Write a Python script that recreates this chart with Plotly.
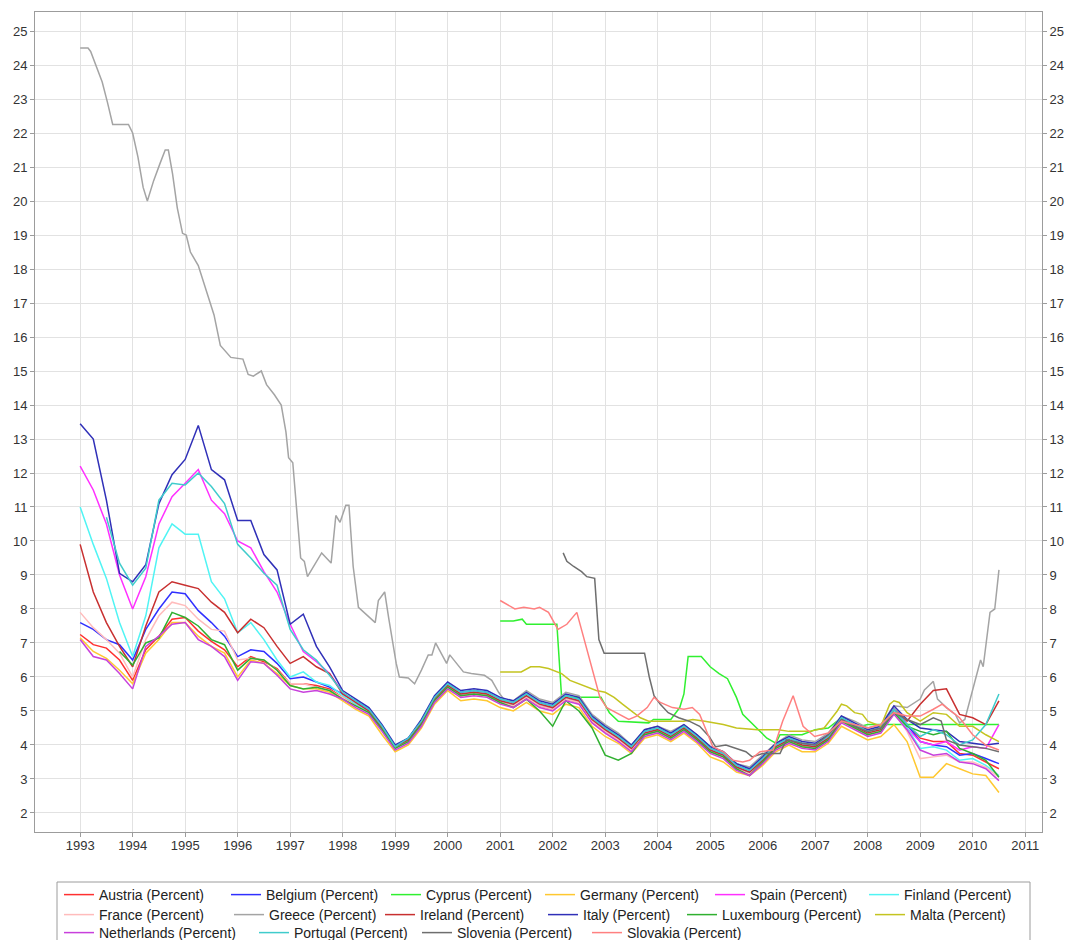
import plotly.graph_objects as go

# ---------------- data (10-year government bond yields, percent) ----------------
quarters = [1993 + q / 4 for q in range(71)]  # 1993.00 ... 2010.50

austria = [
    7.25, 6.95, 6.85, 6.5,
    5.9, 6.8, 7.2, 7.7,
    7.75, 7.35, 7.05, 6.8,
    6.3, 6.6, 6.45, 6.25,
    5.8, 5.8, 5.75, 5.65,
    5.4, 5.2, 5.0, 4.5,
    3.9, 4.15, 4.65, 5.35,
    5.7, 5.45, 5.5, 5.45,
    5.25, 5.15, 5.4, 5.15,
    5.05, 5.35, 5.25, 4.7,
    4.4, 4.15, 3.85, 4.3,
    4.4, 4.2, 4.45, 4.15,
    3.8, 3.65, 3.3, 3.15,
    3.5, 3.9, 4.1, 3.95,
    3.9, 4.15, 4.7, 4.5,
    4.3, 4.4, 5.0, 4.6,
    4.2, 4.1, 4.1, 3.75,
    3.7, 3.5, 3.3,
]
belgium = [
    7.6, 7.4, 7.1, 6.95,
    6.5, 7.4, 8.0, 8.5,
    8.45, 7.95, 7.6, 7.2,
    6.6, 6.8, 6.75, 6.4,
    5.95, 6.0, 5.85, 5.7,
    5.5, 5.3, 5.05, 4.55,
    3.95, 4.2, 4.7, 5.4,
    5.8, 5.55, 5.6, 5.55,
    5.35, 5.25, 5.5, 5.25,
    5.15, 5.45, 5.35, 4.8,
    4.5, 4.25, 3.95, 4.4,
    4.5, 4.3, 4.55, 4.25,
    3.9, 3.75, 3.4, 3.25,
    3.6, 4.0, 4.2, 4.05,
    4.0, 4.25, 4.8, 4.6,
    4.4, 4.5, 5.05, 4.6,
    4.1, 4.0, 3.95, 3.7,
    3.75, 3.6, 3.45,
]
germany = [
    7.15, 6.75, 6.55, 6.2,
    5.8, 6.7, 7.1, 7.6,
    7.6, 7.2, 6.9, 6.7,
    6.0, 6.5, 6.4, 6.1,
    5.75, 5.65, 5.65, 5.55,
    5.3, 5.05, 4.85, 4.3,
    3.8, 4.0, 4.5, 5.2,
    5.6, 5.3, 5.35, 5.3,
    5.1, 5.0, 5.25, 5.0,
    4.9, 5.2, 5.1, 4.55,
    4.25, 4.05, 3.75, 4.2,
    4.3, 4.1, 4.35, 4.05,
    3.65, 3.5, 3.2, 3.1,
    3.4, 3.8, 4.0, 3.8,
    3.8, 4.05, 4.55, 4.35,
    4.15, 4.25, 4.6, 4.1,
    3.05, 3.05, 3.45, 3.3,
    3.15, 3.1, 2.6,
]
spain = [
    12.2, 11.5, 10.5, 9.0,
    8.0, 8.95, 10.5, 11.3,
    11.7, 12.1, 11.2, 10.8,
    10.0, 9.8, 9.1, 8.5,
    7.55, 6.75, 6.45, 6.1,
    5.55, 5.25, 5.0, 4.5,
    3.95, 4.15, 4.65, 5.35,
    5.75, 5.5, 5.55, 5.5,
    5.3, 5.2, 5.45, 5.2,
    5.1, 5.4, 5.3, 4.75,
    4.45, 4.2, 3.9, 4.35,
    4.45, 4.25, 4.5, 4.2,
    3.85, 3.7, 3.35, 3.2,
    3.55, 3.95, 4.15, 4.0,
    3.95, 4.2, 4.75, 4.55,
    4.35, 4.45, 5.0, 4.5,
    4.1, 4.0, 4.1, 3.85,
    3.95, 3.9, 4.6,
]
finland = [
    11.0, 9.9, 8.9, 7.6,
    6.6, 7.8, 9.8, 10.5,
    10.2, 10.2, 8.8, 8.3,
    7.3, 7.6, 7.1, 6.5,
    6.0, 6.15, 5.85, 5.75,
    5.45, 5.2, 4.95, 4.45,
    3.9, 4.15, 4.65, 5.35,
    5.75, 5.5, 5.55, 5.5,
    5.3, 5.2, 5.45, 5.2,
    5.1, 5.4, 5.3, 4.75,
    4.45, 4.2, 3.9, 4.35,
    4.45, 4.25, 4.5, 4.2,
    3.85, 3.7, 3.35, 3.2,
    3.55, 3.95, 4.15, 4.0,
    3.95, 4.2, 4.75, 4.55,
    4.35, 4.45, 5.0, 4.5,
    3.9, 3.95, 3.85, 3.55,
    3.6, 3.4, 3.1,
]
france = [
    7.9, 7.45, 7.1, 6.7,
    6.0, 7.1, 7.8, 8.2,
    8.1, 7.7, 7.4, 7.35,
    6.5, 6.55, 6.5, 6.2,
    5.8, 5.8, 5.7, 5.6,
    5.4, 5.15, 4.95, 4.45,
    3.9, 4.1, 4.6, 5.3,
    5.7, 5.45, 5.5, 5.45,
    5.25, 5.15, 5.4, 5.15,
    5.05, 5.35, 5.25, 4.7,
    4.4, 4.15, 3.85, 4.3,
    4.4, 4.2, 4.45, 4.15,
    3.8, 3.65, 3.3, 3.15,
    3.5, 3.9, 4.1, 3.95,
    3.9, 4.15, 4.7, 4.5,
    4.3, 4.4, 4.95, 4.4,
    3.6, 3.65, 3.7, 3.5,
    3.5, 3.35, 3.05,
]
ireland = [
    9.9, 8.5, 7.6, 6.9,
    6.3, 7.5, 8.5, 8.8,
    8.7, 8.6, 8.2, 7.9,
    7.3, 7.7, 7.45, 6.9,
    6.4, 6.6, 6.3, 6.1,
    5.5, 5.25, 5.0, 4.5,
    3.95, 4.15, 4.65, 5.35,
    5.75, 5.5, 5.55, 5.5,
    5.3, 5.2, 5.45, 5.2,
    5.1, 5.4, 5.3, 4.75,
    4.45, 4.2, 3.9, 4.35,
    4.45, 4.25, 4.5, 4.2,
    3.85, 3.7, 3.35, 3.2,
    3.55, 3.95, 4.15, 4.0,
    3.95, 4.2, 4.75, 4.55,
    4.35, 4.45, 5.05, 4.7,
    5.2, 5.6, 5.65, 4.9,
    4.8, 4.6, 5.3,
]
italy = [
    13.45, 13.0, 11.2, 9.05,
    8.8, 9.3, 11.1, 11.95,
    12.4, 13.4, 12.1, 11.8,
    10.6, 10.6, 9.6, 9.15,
    7.55, 7.85, 6.9, 6.3,
    5.6, 5.35, 5.1, 4.6,
    4.0, 4.2, 4.75, 5.45,
    5.85, 5.6, 5.65, 5.6,
    5.4, 5.3, 5.55, 5.3,
    5.2, 5.5, 5.4, 4.85,
    4.55, 4.3, 4.0, 4.45,
    4.55, 4.35, 4.6, 4.3,
    3.95, 3.8, 3.45, 3.3,
    3.65, 4.05, 4.25, 4.1,
    4.05, 4.3, 4.85, 4.65,
    4.45, 4.55, 5.15, 4.75,
    4.5, 4.45, 4.4, 4.1,
    4.05, 4.0, 4.05,
]
luxembourg = [
    None, None, None, 6.75,
    6.35, 7.0, 7.15, 7.9,
    7.75, 7.5, 7.1, 6.95,
    6.2, 6.55, 6.5, 6.2,
    5.75, 5.65, 5.7, 5.6,
    5.35, 5.15, 4.95, 4.45,
    3.9, 4.1, 4.6, 5.3,
    5.7, 5.45, 5.5, 5.45,
    5.25, 5.1, 5.35, 5.0,
    4.55, 5.3, 5.0, 4.5,
    3.7, 3.55, 3.75, 4.3,
    4.4, 4.2, 4.45, 4.15,
    3.8, 3.65, 3.3, 3.1,
    3.5, 3.9, 4.1, 3.95,
    3.9, 4.15, 4.7, 4.5,
    4.3, 4.4, 4.95, 4.55,
    4.4, 4.3, 4.4, 3.9,
    3.75, 3.55, 3.05,
]
netherlands = [
    7.1, 6.6, 6.5, 6.1,
    5.65, 6.9, 7.2, 7.55,
    7.6, 7.1, 6.9, 6.6,
    5.9, 6.45, 6.4, 6.05,
    5.65, 5.55, 5.6, 5.5,
    5.35, 5.1, 4.9, 4.4,
    3.85, 4.05, 4.55, 5.25,
    5.65, 5.4, 5.45, 5.4,
    5.2, 5.1, 5.35, 5.1,
    5.0, 5.3, 5.2, 4.65,
    4.35, 4.1, 3.8, 4.25,
    4.35, 4.15, 4.4, 4.1,
    3.75, 3.6, 3.25, 3.1,
    3.45, 3.85, 4.05, 3.9,
    3.85, 4.1, 4.65, 4.45,
    4.25, 4.35, 4.9, 4.45,
    3.85, 3.7, 3.75, 3.5,
    3.45, 3.3, 2.95,
]
portugal = [
    None, None, 10.7, 9.35,
    8.7, 9.2, 11.2, 11.7,
    11.65, 12.0, 11.6, 11.1,
    9.9, 9.5, 9.05, 8.7,
    7.4, 6.8, 6.5, 6.05,
    5.55, 5.3, 5.05, 4.55,
    3.95, 4.2, 4.7, 5.4,
    5.8, 5.55, 5.6, 5.55,
    5.35, 5.25, 5.5, 5.25,
    5.15, 5.45, 5.35, 4.8,
    4.5, 4.25, 3.95, 4.4,
    4.5, 4.3, 4.55, 4.25,
    3.9, 3.75, 3.4, 3.25,
    3.6, 4.0, 4.2, 4.05,
    4.0, 4.25, 4.8, 4.6,
    4.4, 4.5, 5.05, 4.6,
    4.25, 4.45, 4.3, 4.0,
    4.15, 4.6, 5.5,
]

greece_t = [
    1993.0, 1993.15, 1993.2, 1993.42, 1993.52, 1993.62, 1993.92, 1994.0, 1994.1, 1994.2,
    1994.28, 1994.4, 1994.52, 1994.62, 1994.68, 1994.76, 1994.85, 1994.95, 1995.02, 1995.1,
    1995.25, 1995.4, 1995.55, 1995.67, 1995.87, 1996.1, 1996.2, 1996.3, 1996.45, 1996.55,
    1996.7, 1996.83, 1996.92, 1996.97, 1997.05, 1997.2, 1997.27, 1997.33, 1997.45, 1997.6,
    1997.78, 1997.87, 1997.95, 1998.06, 1998.12, 1998.2, 1998.3, 1998.4, 1998.5, 1998.62,
    1998.68, 1998.8, 1998.88, 1999.02, 1999.08, 1999.25, 1999.37, 1999.5, 1999.63, 1999.7,
    1999.77, 1999.88, 1999.98, 2000.04, 2000.17, 2000.3, 2000.45, 2000.7, 2000.84, 2000.97,
    2001.09, 2001.25, 2001.5, 2001.75, 2002.0, 2002.25, 2002.5, 2002.75, 2003.0, 2003.25,
    2003.5, 2003.75, 2004.0, 2004.25, 2004.5, 2004.75, 2005.0, 2005.25, 2005.5, 2005.75,
    2006.0, 2006.25, 2006.5, 2006.75, 2007.0, 2007.25, 2007.5, 2007.75, 2008.0, 2008.25,
    2008.5, 2008.75, 2009.0, 2009.08, 2009.17, 2009.25, 2009.33, 2009.5, 2009.67, 2009.75,
    2009.85, 2010.0, 2010.15, 2010.2, 2010.33, 2010.42, 2010.5,
]
greece_v = [
    24.5, 24.5, 24.4, 23.5, 22.9, 22.25, 22.25, 22.0, 21.3, 20.4,
    20.0, 20.6, 21.1, 21.5, 21.5, 20.8, 19.8, 19.05, 19.0, 18.5,
    18.1, 17.4, 16.65, 15.75, 15.4, 15.35, 14.9, 14.85, 15.0, 14.6,
    14.3, 14.0, 13.2, 12.45, 12.3, 9.5, 9.4, 8.95, 9.25, 9.65,
    9.35, 10.75, 10.55, 11.05, 11.05, 9.25, 8.05, 7.9, 7.75, 7.6,
    8.25, 8.5, 7.7, 6.4, 6.0, 5.97, 5.8, 6.2, 6.65, 6.65,
    7.0, 6.7, 6.4, 6.65, 6.4, 6.15, 6.1, 6.05, 5.9, 5.55,
    5.3, 5.3, 5.6, 5.35, 5.25, 5.55, 5.45, 4.9, 4.6, 4.35,
    4.0, 4.45, 4.55, 4.4, 4.6, 4.3, 3.95, 3.8, 3.45, 3.35,
    3.7, 4.05, 4.3, 4.15, 4.1, 4.35, 4.85, 4.7, 4.5, 4.6,
    5.15, 5.1, 5.35, 5.62, 5.75, 5.87, 5.35, 5.1, 4.9, 4.65,
    4.75, 5.6, 6.5, 6.3, 7.9, 8.0, 9.15,
]

cyprus_t = [
    2001.0, 2001.25, 2001.42, 2001.5, 2002.08, 2002.13, 2002.17, 2002.92, 2003.08, 2003.25,
    2003.83, 2003.92, 2004.25, 2004.42, 2004.5, 2004.58, 2004.83, 2005.0, 2005.17, 2005.33,
    2005.5, 2005.62, 2005.92, 2006.08, 2006.25, 2006.33, 2006.75, 2007.0, 2007.25, 2007.5,
    2007.75, 2008.0, 2010.5,
]
cyprus_v = [
    7.65, 7.65, 7.7, 7.55, 7.55, 6.5, 5.4, 5.4, 4.95, 4.7,
    4.65, 4.75, 4.75, 5.1, 5.5, 6.6, 6.6, 6.3, 6.1, 5.95,
    5.4, 4.9, 4.45, 4.2, 4.05, 4.3, 4.3, 4.45, 4.5, 4.8,
    4.5, 4.6, 4.6,
]

malta_t = [
    2001.0, 2001.4, 2001.58, 2001.75, 2001.92, 2002.17, 2002.33, 2002.58, 2002.83, 2003.0,
    2003.17, 2003.33, 2003.5, 2003.67, 2003.83, 2004.0, 2004.5, 2004.67, 2004.9, 2005.25,
    2005.5, 2005.9, 2006.3, 2006.5, 2006.9, 2007.17, 2007.42, 2007.5, 2007.6, 2007.75,
    2007.9, 2008.0, 2008.25, 2008.42, 2008.5, 2008.6, 2008.75, 2009.0, 2009.25, 2009.5,
    2009.75, 2010.0, 2010.25, 2010.5,
]
malta_v = [
    6.15, 6.15, 6.3, 6.3, 6.25, 6.1, 5.9, 5.75, 5.6, 5.55,
    5.4, 5.2, 5.0, 4.8, 4.7, 4.7, 4.7, 4.75, 4.7, 4.6,
    4.5, 4.45, 4.45, 4.4, 4.4, 4.5, 5.0, 5.2, 5.15, 4.95,
    4.9, 4.7, 4.55, 5.2, 5.3, 5.25, 4.95, 4.7, 4.95, 4.9,
    4.55, 4.55, 4.3, 4.1,
]

slovenia_t = [
    2002.2, 2002.27, 2002.4, 2002.55, 2002.65, 2002.8, 2002.88, 2002.98, 2003.75, 2003.84,
    2003.93, 2004.05, 2004.2, 2004.4, 2004.6, 2004.8, 2004.98, 2005.1, 2005.3, 2005.5,
    2005.68, 2005.8, 2006.0, 2006.33, 2006.45, 2006.75, 2007.0, 2007.25, 2007.5, 2007.75,
    2008.0, 2008.25, 2008.5, 2008.75, 2009.0, 2009.25, 2009.4, 2009.5, 2009.75, 2010.0,
    2010.25, 2010.5,
]
slovenia_v = [
    9.65, 9.4, 9.25, 9.1, 8.95, 8.9, 7.1, 6.7, 6.7, 6.0,
    5.45, 5.2, 4.95, 4.8, 4.7, 4.55, 4.25, 3.95, 4.0, 3.9,
    3.8, 3.65, 3.75, 3.75, 4.15, 4.05, 4.0, 4.3, 4.75, 4.55,
    4.4, 4.5, 4.95, 4.75, 4.6, 4.8, 4.7, 4.15, 4.0, 3.95,
    3.9, 3.8,
]

slovakia_t = [
    2001.0, 2001.28, 2001.45, 2001.65, 2001.75, 2001.92, 2002.1, 2002.27, 2002.46, 2002.6,
    2002.77, 2002.9, 2003.03, 2003.2, 2003.45, 2003.6, 2003.8, 2003.93, 2004.05, 2004.28,
    2004.5, 2004.66, 2004.8, 2004.92, 2005.05, 2005.25, 2005.43, 2005.62, 2005.75, 2005.95,
    2006.2, 2006.38, 2006.58, 2006.77, 2006.99, 2007.25, 2007.5, 2007.75, 2008.0, 2008.25,
    2008.5, 2008.75, 2009.0, 2009.25, 2009.42, 2009.5, 2009.75, 2010.0, 2010.25, 2010.5,
]
slovakia_v = [
    8.25, 8.0, 8.05, 8.0, 8.05, 7.9, 7.4, 7.55, 7.9, 7.1,
    6.2, 5.4, 5.1, 4.95, 4.75, 4.85, 5.1, 5.4, 5.25, 5.1,
    5.05, 5.1, 4.9, 4.45, 3.95, 3.8, 3.55, 3.5, 3.55, 3.8,
    3.85, 4.7, 5.45, 4.55, 4.25, 4.35, 4.7, 4.6, 4.5, 4.6,
    4.95, 4.85, 4.85, 5.05, 5.2, 5.1, 4.8, 4.3, 4.0, 3.85,
]

y_ticks = list(range(2, 26))
x_ticks = list(range(1993, 2012))

# ---------------- figure ----------------
FONT = "Liberation Sans, Arial, sans-serif"
W, H = 1066, 940
PL, PR, PT, PB = 35, 1042, 12, 832        # plot-area pixel box
Y_RANGE = [1.44, 25.56]
X_RANGE = [1992.14, 2011.32]

series = [
    ("Austria (Percent)", quarters, austria, "#ff3030"),
    ("Belgium (Percent)", quarters, belgium, "#3030ff"),
    ("Cyprus (Percent)", cyprus_t, cyprus_v, "#30f030"),
    ("Germany (Percent)", quarters, germany, "#ffc830"),
    ("Spain (Percent)", quarters, spain, "#ff30ff"),
    ("Finland (Percent)", quarters, finland, "#50f4f4"),
    ("France (Percent)", quarters, france, "#ffbcbc"),
    ("Greece (Percent)", greece_t, greece_v, "#a4a4a4"),
    ("Ireland (Percent)", quarters, ireland, "#c83030"),
    ("Italy (Percent)", quarters, italy, "#3030b8"),
    ("Luxembourg (Percent)", quarters, luxembourg, "#30b030"),
    ("Malta (Percent)", malta_t, malta_v, "#c4c420"),
    ("Netherlands (Percent)", quarters, netherlands, "#c840dc"),
    ("Portugal (Percent)", quarters, portugal, "#40cccc"),
    ("Slovenia (Percent)", slovenia_t, slovenia_v, "#6e6e6e"),
    ("Slovakia (Percent)", slovakia_t, slovakia_v, "#ff8080"),
]

# legend entry boxes (left px, top px in the window), flowed like the original
legend_boxes = [
    (59, 879), (226, 879), (386, 879), (540, 879), (710, 879), (864, 879),
    (59, 899), (229, 899), (380, 899), (543, 899), (682, 899), (870, 899),
    (59, 917), (254, 917), (417, 917), (587, 917),
]

fig = go.Figure()
layout_legends = {}
for k, (name, xs, ys, col) in enumerate(series):
    lname = "legend" if k == 0 else f"legend{k + 1}"
    fig.add_trace(go.Scatter(
        x=xs, y=ys, name=name, mode="lines",
        line=dict(color=col, width=1.5),
        legend=lname,
        yaxis="y2" if k == len(series) - 1 else "y",
    ))
    lx, ly = legend_boxes[k]
    layout_legends[lname] = dict(
        x=(lx - PL) / (PR - PL), y=(PB - ly) / (PB - PT),
        xanchor="left", yanchor="top", orientation="h",
        bgcolor="rgba(0,0,0,0)", borderwidth=0,
        font=dict(family=FONT, size=14, color="#222222"),
    )

axis_common = dict(
    showgrid=True, gridcolor="#e2e2e2", gridwidth=1,
    showline=True, linecolor="#9c9c9c", linewidth=1,
    ticks="outside", ticklen=4, tickcolor="#9c9c9c",
    tickfont=dict(family=FONT, size=13, color="#333333"),
    zeroline=False,
)

fig.update_layout(
    width=W, height=H,
    margin=dict(l=PL, r=W - PR, t=PT, b=H - PB, autoexpand=False),
    paper_bgcolor="white", plot_bgcolor="white",
    showlegend=True,
    xaxis=dict(range=X_RANGE, tickvals=x_ticks, ticktext=[str(v) for v in x_ticks],
               mirror=True, ticklabelstandoff=-3, **axis_common),
    yaxis=dict(range=Y_RANGE, tickvals=y_ticks, mirror=False, **axis_common),
    yaxis2=dict(range=Y_RANGE, tickvals=y_ticks, overlaying="y", side="right",
                showgrid=False, showline=True, linecolor="#9c9c9c", linewidth=1,
                ticks="outside", ticklen=4, tickcolor="#9c9c9c",
                tickfont=dict(family=FONT, size=13, color="#333333"), zeroline=False),
    shapes=[dict(type="rect", xref="paper", yref="paper",
                 x0=(57 - PL) / (PR - PL), x1=(1030 - PL) / (PR - PL),
                 y0=(PB - 882) / (PB - PT), y1=(PB - 960) / (PB - PT),
                 line=dict(color="#9c9c9c", width=1), fillcolor="rgba(0,0,0,0)")],
    **layout_legends,
)

# remove the browser's default 8px page margin so the 1066x940 figure fills the window
fig.write_html(
    "out.html",
    config={"displayModeBar": False},
    post_script="document.body.style.margin='0px';document.body.style.overflow='hidden';",
)
